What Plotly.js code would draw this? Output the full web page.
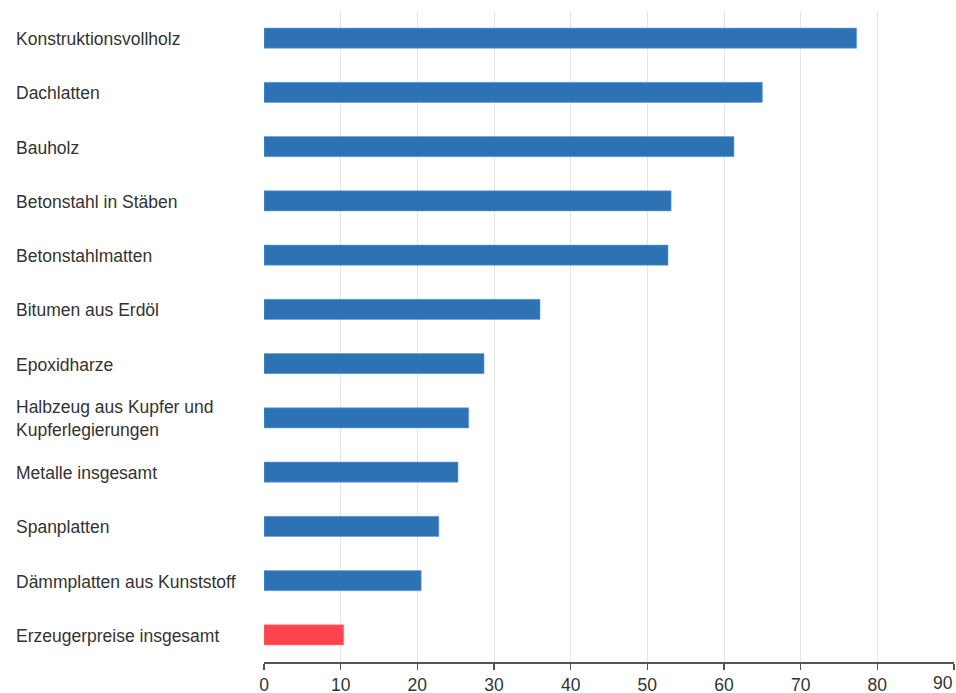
<!DOCTYPE html>
<html>
<head>
<meta charset="utf-8">
<script src="https://cdn.plot.ly/plotly-3.0.1.min.js"></script>
<style>html,body{margin:0;padding:0;background:#fff;}#chart{width:956px;height:693px;}</style>
</head>
<body>
<div id="chart"></div>
<script>
var categories = [
  "Konstruktionsvollholz",
  "Dachlatten",
  "Bauholz",
  "Betonstahl in Stäben",
  "Betonstahlmatten",
  "Bitumen aus Erdöl",
  "Epoxidharze",
  "Halbzeug aus Kupfer und<br>Kupferlegierungen",
  "Metalle insgesamt",
  "Spanplatten",
  "Dämmplatten aus Kunststoff",
  "Erzeugerpreise insgesamt"
];
var values = [77.3, 65.0, 61.3, 53.1, 52.7, 36.0, 28.7, 26.7, 25.3, 22.8, 20.5, 10.4];
var highlight = [false, false, false, false, false, false, false, false, false, false, false, true];
var tickVals = [0, 10, 20, 30, 40, 50, 60, 70, 80, 90];

var blue = "#2c72b4", red = "#ff444f";
var colors = highlight.map(function(h){ return h ? red : blue; });
var lineColors = highlight.map(function(h){ return h ? "#ff7a82" : "#6a9fd3"; });

var font = "Liberation Sans, Arial, sans-serif";
var trace = {
  type: "bar",
  orientation: "h",
  y: categories,
  x: values,
  marker: {color: colors, line: {color: lineColors, width: 0.6}},
  hoverinfo: "x+y"
};

var lastTick = tickVals[tickVals.length - 1];
var annotations = categories.map(function(c){
  return {
    xref: "paper", yref: "y", x: -0.3623, y: c, yshift: -1,
    xanchor: "left", yanchor: "middle", align: "left",
    text: c, showarrow: false,
    font: {family: font, size: 17.5, color: "#333333"}
  };
});
// last x tick label, pulled inside the chart edge
annotations.push({
  xref: "x", yref: "paper", x: lastTick, y: 0, yshift: -21, borderpad: 0,
  xanchor: "right", yanchor: "middle",
  text: String(lastTick), showarrow: false,
  font: {family: font, size: 17.5, color: "#333333"}
});

var layout = {
  width: 956, height: 693,
  margin: {l: 264, r: 2, t: 11, b: 31, pad: 0},
  paper_bgcolor: "#ffffff", plot_bgcolor: "#ffffff",
  showlegend: false,
  bargap: 0.63,
  font: {family: font, size: 17.5, color: "#333333"},
  xaxis: {
    range: [0, 90], tickvals: tickVals,
    ticktext: tickVals.map(function(v){ return v === lastTick ? "" : String(v); }),
    showgrid: true, gridcolor: "#e6e6e6", gridwidth: 1,
    zeroline: false,
    showline: true, linecolor: "#555555", linewidth: 1.5,
    ticks: "outside", ticklen: 6, tickcolor: "#555555", tickwidth: 1.5,
    tickfont: {family: font, size: 17.5, color: "#333333"},
    fixedrange: true
  },
  yaxis: {
    categoryorder: "array", categoryarray: categories,
    autorange: false,
    range: [categories.length - 0.5, -0.5],
    showticklabels: false, showgrid: false, zeroline: false, showline: false,
    fixedrange: true
  },
  annotations: annotations
};

Plotly.newPlot("chart", [trace], layout, {displayModeBar: false, staticPlot: true});
</script>
</body>
</html>
